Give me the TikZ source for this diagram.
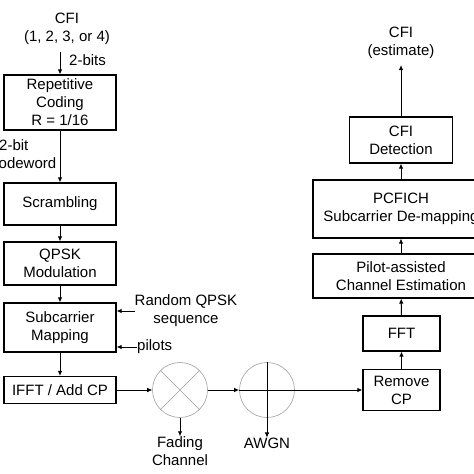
\documentclass[tikz,border=0pt]{standalone}
\usepackage{fontspec}
\setmainfont{Liberation Sans}
\usetikzlibrary{arrows.meta, positioning, calc}
\tikzset{
	blk/.style={draw, line width=1.1pt, align=center, inner sep=0pt},
	lbl/.style={align=center, inner sep=0pt},
	sig/.style={line width=1pt, -{Latex[length=5pt,width=4.5pt]}},
	mixer/.style={circle, draw=gray!75, line width=0.6pt, minimum size=55pt, inner sep=0pt},
}

\begin{document}
\begin{tikzpicture}[x=1pt, y=-1pt, font=\fontsize{15}{18}\selectfont]
		\useasboundingbox (0,0) rectangle (474,474);
		\clip (0,0) rectangle (474,474);
		% transmitter
		\node[lbl] (cfi) at (67,29) {CFI\\(1, 2, 3, or 4)};
		\coordinate (cfiin) at (60,52);
		\node[lbl, anchor=west] (bits) at (69,60) {2-bits};
		\node[blk, minimum width=112pt, minimum height=55pt] (rep) at (60,102.5) {Repetitive\\Coding\\R = 1/16};
		\node[lbl, align=left, anchor=west] (cw) at (-9,154) {\hspace*{8pt}2-bit\\codeword};
		\node[blk, minimum width=112pt, minimum height=42pt] (scr) at (60,204) {Scrambling};
		\node[blk, minimum width=112pt, minimum height=43pt] (qpsk) at (60,263.5) {QPSK\\Modulation};
		\node[blk, minimum width=112pt, minimum height=49pt] (map) at (60,327.5) {Subcarrier\\Mapping};
		\node[lbl] (rnd) at (186,311) {Random QPSK\\sequence};
		\node[lbl, anchor=west] (pil) at (137,347) {pilots};
		\node[blk, minimum width=112pt, minimum height=27pt] (ifft) at (60,390) {IFFT / Add CP};
		\draw[sig] (cfiin) -- (rep.north);
		\foreach \from/\to in {rep/scr,scr/qpsk,qpsk/map,map/ifft}
			\draw[sig] (\from) -- (\to);
		\draw[sig] (rnd.west) -- (rnd.west -| map.east);
		\draw[sig] (pil.west) -- (pil.west -| map.east);
		% channel
		\node[mixer] (mult) at (180,390) {};
		\draw[gray!75, line width=0.6pt] (mult.north west) -- (mult.south east) (mult.north east) -- (mult.south west);
		\node[lbl] (fad) at (180,451) {Fading\\Channel};
		\node[mixer] (awgn) at (267,390) {};
		\draw[line width=0.7pt] (awgn.west) -- (awgn.east);
		\node[lbl] (noise) at (267,443) {AWGN};
		\draw[sig, line width=0.6pt] (ifft) -- (mult);
		\draw[sig] (mult) -- (fad);
		\draw[sig] (mult) -- (awgn);
		\draw[sig, line width=0.7pt] (awgn.north) -- (noise.north);
		% receiver
		\node[blk, minimum width=77pt, minimum height=41pt] (rcp) at (401.5,390) {Remove\\CP};
		\node[blk, minimum width=77pt, minimum height=35pt] (fft) at (401.5,333.5) {FFT};
		\node[blk, minimum width=176pt, minimum height=44pt] (est) at (401,276) {Pilot-assisted\\Channel Estimation};
		\node[blk, minimum width=176pt, minimum height=58pt] (demap) at (401,209) {PCFICH\\Subcarrier De-mapping};
		\node[blk, minimum width=103pt, minimum height=46pt] (det) at (401,140) {CFI\\Detection};
		\coordinate (cfiout) at (401,65);
		\node[lbl] (cfihat) at (401,43) {CFI\\(estimate)};
		\draw[sig] (awgn) -- (rcp);
		\foreach \from/\to in {rcp/fft,fft/est,est/demap,demap/det}
			\draw[sig] (\from) -- (\to);
		\draw[sig] (det.north) -- (cfiout);
	\end{tikzpicture}
\end{document}
